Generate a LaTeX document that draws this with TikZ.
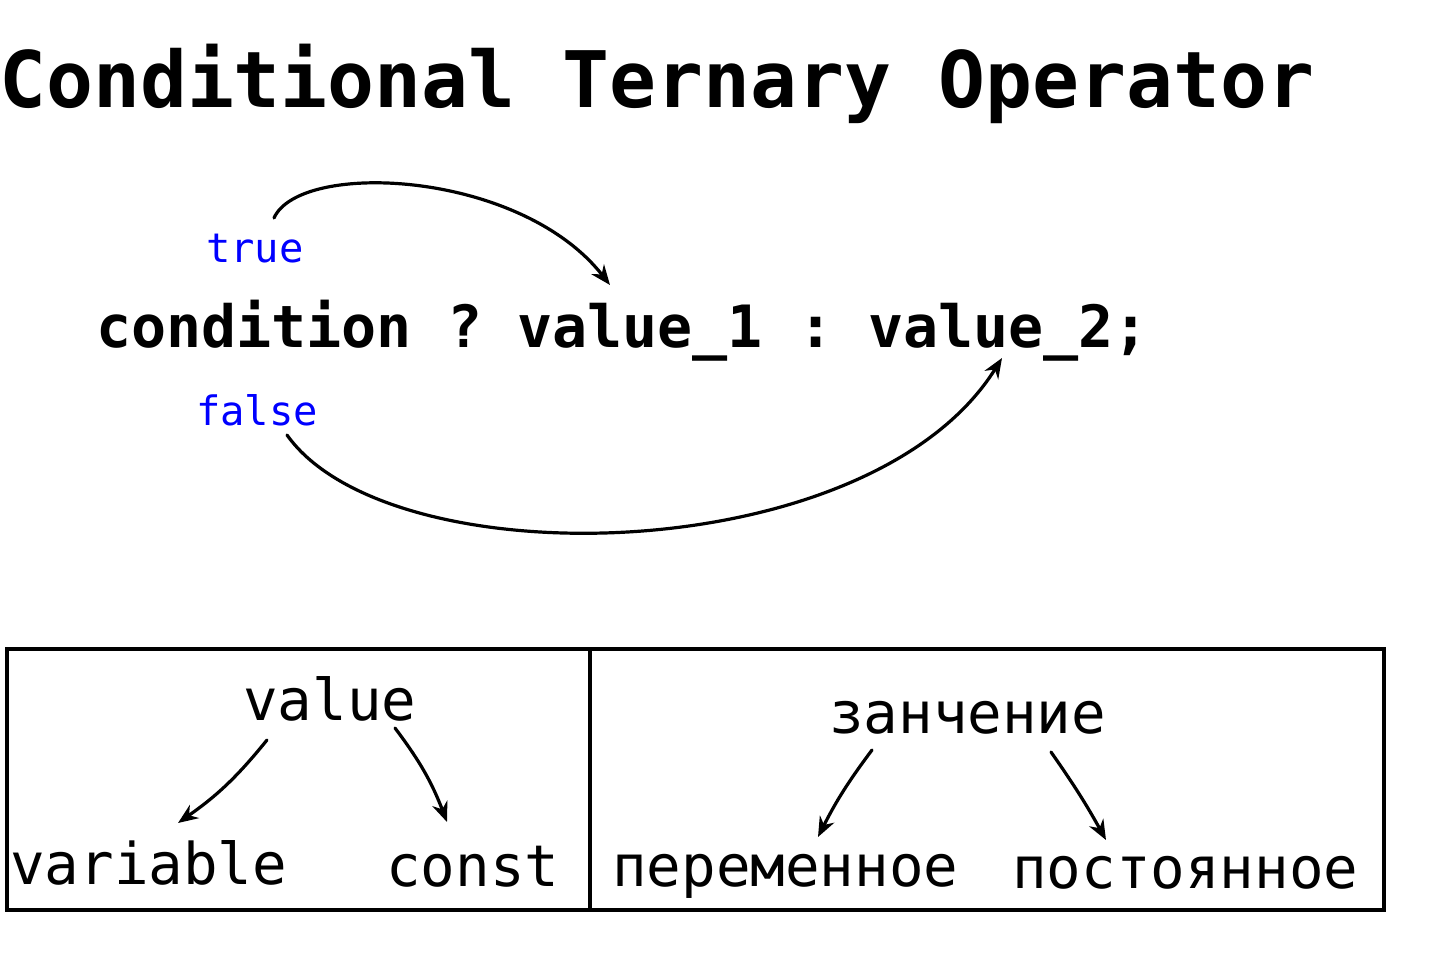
\documentclass[tikz,border=0pt]{standalone}
\usepackage{fontspec}
\setmonofont{DejaVu Sans Mono}
\usetikzlibrary{arrows.meta}
\definecolor{lblue}{RGB}{0,0,255}
\tikzset{
  txt/.style={inner sep=0pt, anchor=base west, font=\ttfamily},
  title/.style={txt, font=\ttfamily\bfseries\fontsize{78}{90}\selectfont},
  code/.style={txt, font=\ttfamily\bfseries\fontsize{58.3}{66}\selectfont},
  lbl/.style={txt, text=lblue, font=\ttfamily\fontsize{40.5}{48}\selectfont},
  word/.style={txt, font=\ttfamily\fontsize{57.5}{66}\selectfont},
  arr/.style={line width=3.2pt, line cap=round, -{Stealth[length=20pt,width=16pt]}},
  frame/.style={line width=4pt}
}
\begin{document}
\begin{tikzpicture}[x=1pt,y=-1pt]
\useasboundingbox (0,0) rectangle (1430,980);
% title
\node[title] (ttl) at (-1,107) {Conditional Ternary Operator};
% code line
\node[code] (cond) at (96,347) {condition ?};
\node[code] (v1) at (517,347) {value\_1};
\node[code] (colon) at (798,347) {:};
\node[code] (v2) at (868,347) {value\_2;};
% labels
\node[lbl] (true) at (206,262) {true};
\node[lbl] (false) at (196,425) {false};
% curved arrows
\draw[arr] ([shift={(68,-44)}]true.base west)
  .. controls (300,160) and (520,170) .. ([shift={(93,-62)}]v1.base west);
\draw[arr] ([shift={(91,10)}]false.base west)
  .. controls (390,580) and (870,570) .. ([shift={(134,11)}]v2.base west);
% table frame
\draw[frame] (7,649) rectangle (1384,910);
\draw[frame] (590,649) -- (590,910);
% left cell
\node[word] (val) at (243,720) {value};
\node[word] (var) at (10,884) {variable};
\node[word] (const) at (386,886) {const};
\draw[arr] ([shift={(24,20)}]val.base west) to[bend left=8] ([shift={(168,-61)}]var.base west);
\draw[arr] ([shift={(152,8)}]val.base west) to[bend left=8] ([shift={(61,-64)}]const.base west);
% right cell
\node[word] (zn) at (829,733) {занчение};
\node[word] (per) at (612,886) {переменное};
\node[word] (post) at (1012,888) {постоянное};
\draw[arr] ([shift={(43,17)}]zn.base west) to[bend right=5] ([shift={(206,-49)}]per.base west);
\draw[arr] ([shift={(222,19)}]zn.base west) to[bend left=3] ([shift={(94,-48)}]post.base west);
\end{tikzpicture}
\end{document}
